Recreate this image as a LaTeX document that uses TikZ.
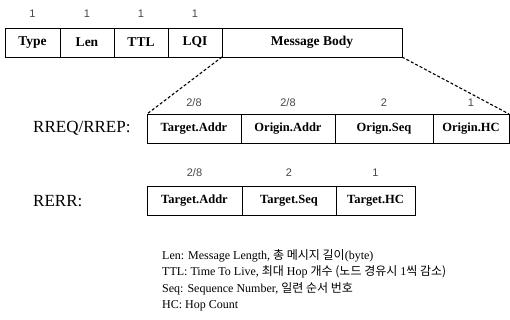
\documentclass[tikz,border=0pt]{standalone}
\usepackage{fontspec}
\setmainfont{Liberation Serif}
\newfontfamily\krfont{Noto Sans CJK KR}
\newfontfamily\numfont{Liberation Sans}
\usetikzlibrary{positioning}

\tikzset{
  field/.style={draw, line width=0.8pt, minimum height=29pt, inner sep=0pt,
                outer sep=0pt, font=\bfseries\fontsize{12.5}{14}\selectfont},
  bigfield/.style={field, font=\bfseries\fontsize{13.5}{15}\selectfont},
  bytes/.style={font=\numfont\fontsize{11}{13}\selectfont, text=black!72, inner sep=0pt},
  msgname/.style={font=\fontsize{17}{20}\selectfont, anchor=west, inner sep=0pt},
  zoomline/.style={line width=1.1pt, dash pattern=on 3pt off 2pt}
}

\begin{document}
\begin{tikzpicture}[x=1pt, y=-1pt]
  \useasboundingbox (0,0) rectangle (510,320);
  % frame header
  \node[bigfield, minimum width=55pt, anchor=north west] (type) at (5,28) {Type};
  \node[bigfield, minimum width=54pt, right=0pt of type] (len) {Len};
  \node[bigfield, minimum width=54pt, right=0pt of len] (ttl) {TTL};
  \node[bigfield, minimum width=54pt, right=0pt of ttl] (lqi) {LQI};
  \node[bigfield, minimum width=180pt, right=0pt of lqi] (body) {Message Body};
  \foreach \f in {type,len,ttl,lqi}
    \node[bytes, above=10pt of \f] (\f-b) {1};

  % RREQ/RREP body
  \node[msgname] (rreq) at (33,128) {RREQ/RREP:};
  \node[field, minimum width=94pt, anchor=north west] (rq1) at (147,114) {Target.Addr};
  \node[field, minimum width=94pt, right=0pt of rq1] (rq2) {Origin.Addr};
  \node[field, minimum width=98pt, right=0pt of rq2] (rq3) {Orign.Seq};
  \node[field, minimum width=76pt, right=0pt of rq3] (rq4) {Origin.HC};
  \foreach \f/\n in {rq1/2\slash 8, rq2/2\slash 8, rq3/2, rq4/1}
    \node[bytes, above=7.5pt of \f] (\f-b) {\n};

  % RERR body
  \node[msgname] (rerr) at (33,201) {RERR:};
  \node[field, minimum width=95pt, anchor=north west] (re1) at (147,186) {Target.Addr};
  \node[field, minimum width=94pt, right=0pt of re1] (re2) {Target.Seq};
  \node[field, minimum width=79pt, right=0pt of re2] (re3) {Target.HC};
  \foreach \f/\n in {re1/2\slash 8, re2/2, re3/1}
    \node[bytes, above=9pt of \f] (\f-b) {\n};

  % zoom of the message body
  \draw[zoomline] (body.south west) -- (rq1.north west);
  \draw[zoomline] (body.south east) -- (rq4.north east);

  % legend
  \node[anchor=north west, align=left, inner sep=0pt,
        font=\fontsize{12}{16.5}\selectfont] (legend) at (162,249) {
    Len: Message Length, {\krfont 총 메시지 길이}(byte)\\
    TTL: Time To Live, {\krfont 최대} Hop {\krfont 개수 (노드 경유시} 1{\krfont 씩 감소)}\\
    Seq: Sequence Number, {\krfont 일련 순서 번호}\\
    HC: Hop Count
  };
\end{tikzpicture}
\end{document}
